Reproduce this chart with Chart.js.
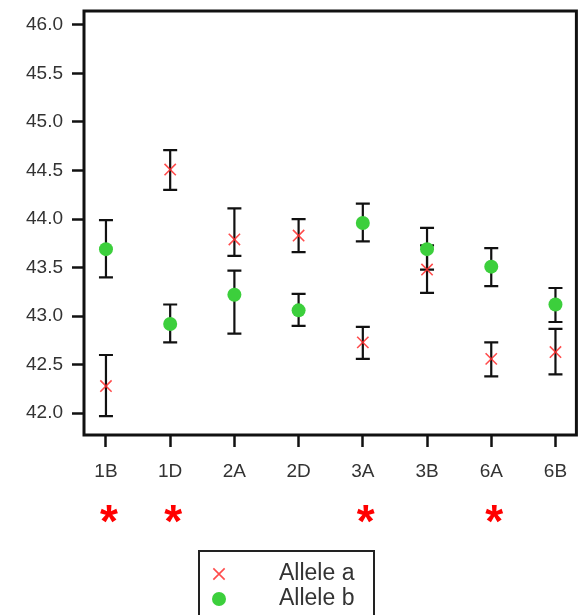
<!DOCTYPE html>
<html>
<head>
<meta charset="utf-8">
<script src="https://cdn.jsdelivr.net/npm/chart.js@4/dist/chart.umd.min.js"></script>
<style>
  html, body { margin: 0; padding: 0; background: #fff; }
  #wrap { width: 586px; height: 615px; }
</style>
</head>
<body>
<div id="wrap"><canvas id="alelos"></canvas></div>
<script>
// chromosomes on the x axis
var categories = ['1B', '1D', '2A', '2D', '3A', '3B', '6A', '6B'];

// Allele a: mean and error bar ends
var alleleA     = [42.28, 44.51, 43.79, 43.83, 42.73, 43.48, 42.56, 42.63];
var alleleALow  = [41.97, 44.30, 43.62, 43.66, 42.56, 43.24, 42.38, 42.40];
var alleleAHigh = [42.60, 44.71, 44.11, 44.00, 42.89, 43.73, 42.73, 42.87];

// Allele b: mean and error bar ends
var alleleB     = [43.69, 42.92, 43.22, 43.06, 43.96, 43.69, 43.51, 43.12];
var alleleBLow  = [43.40, 42.73, 42.82, 42.90, 43.77, 43.48, 43.31, 42.94];
var alleleBHigh = [43.99, 43.12, 43.47, 43.23, 44.16, 43.91, 43.70, 43.29];

// significant differences, marked with a star under the axis
var significant = ['1B', '1D', '3A', '6A'];

var yTicks = [42.0, 42.5, 43.0, 43.5, 44.0, 44.5, 45.0, 45.5, 46.0];

var textColor = '#333';
var lineColor = '#111';
var font = 'Liberation Sans, Arial, sans-serif';

function toPoints(values) {
  var pts = [];
  for (var i = 0; i < values.length; i++) {
    pts.push({ x: i, y: values[i] });
  }
  return pts;
}

// error bars under the markers
var errorBars = {
  id: 'errorBars',
  beforeDatasetsDraw: function(chart) {
    var ctx = chart.ctx;
    var xs = chart.scales.x, ys = chart.scales.y;
    var sets = [[alleleALow, alleleAHigh], [alleleBLow, alleleBHigh]];
    ctx.save();
    ctx.strokeStyle = lineColor;
    ctx.lineWidth = 2.2;
    for (var s = 0; s < sets.length; s++) {
      for (var i = 0; i < categories.length; i++) {
        var x = xs.getPixelForValue(i);
        var lo = ys.getPixelForValue(sets[s][0][i]);
        var hi = ys.getPixelForValue(sets[s][1][i]);
        ctx.beginPath();
        ctx.moveTo(x, lo); ctx.lineTo(x, hi);
        ctx.moveTo(x - 7, lo); ctx.lineTo(x + 7, lo);
        ctx.moveTo(x - 7, hi); ctx.lineTo(x + 7, hi);
        ctx.stroke();
      }
    }
    ctx.restore();
  }
};

// frame, stars and the small boxed legend
var extras = {
  id: 'extras',
  afterDraw: function(chart) {
    var ctx = chart.ctx;
    var a = chart.chartArea;
    var xs = chart.scales.x;
    ctx.save();
    ctx.strokeStyle = lineColor;
    ctx.lineWidth = 3;
    ctx.strokeRect(a.left, a.top, a.right - a.left, a.bottom - a.top);

    ctx.fillStyle = '#ff0000';
    ctx.font = 'bold 46px ' + font;
    ctx.textAlign = 'center';
    ctx.textBaseline = 'alphabetic';
    for (var i = 0; i < significant.length; i++) {
      var idx = categories.indexOf(significant[i]);
      ctx.fillText('*', xs.getPixelForValue(idx) + 3, a.bottom + 102);
    }

    // legend box
    var lx = 199, ly = 551, lw = 175, lh = 70;
    ctx.strokeStyle = '#222';
    ctx.lineWidth = 2;
    ctx.strokeRect(lx, ly, lw, lh);
    var ds = chart.data.datasets;
    ctx.font = '23px ' + font;
    ctx.textAlign = 'left';
    ctx.textBaseline = 'middle';
    for (var k = 0; k < ds.length; k++) {
      var cy = ly + 23 + k * 25;
      ctx.fillStyle = ds[k].pointBackgroundColor;
      ctx.strokeStyle = ds[k].pointBorderColor;
      ctx.lineWidth = ds[k].pointBorderWidth;
      Chart.helpers.drawPoint(ctx, {
        pointStyle: ds[k].pointStyle,
        radius: ds[k].pointRadius,
        borderWidth: ds[k].pointBorderWidth
      }, lx + 20, cy);
      ctx.fillStyle = textColor;
      ctx.fillText(ds[k].label, lx + 80, cy);
    }
    ctx.restore();
  }
};

var ctx = document.getElementById('alelos').getContext('2d');
var chart = new Chart(ctx, {
  type: 'scatter',
  data: {
    datasets: [
      {
        label: 'Allele a',
        data: toPoints(alleleA),
        pointStyle: 'crossRot',
        pointRadius: 8,
        pointBorderWidth: 1.6,
        pointBorderColor: 'rgba(255,45,45,0.85)',
        pointBackgroundColor: 'rgba(255,45,45,0.85)',
        showLine: false
      },
      {
        label: 'Allele b',
        data: toPoints(alleleB),
        pointStyle: 'circle',
        pointRadius: 7,
        pointBorderWidth: 0,
        pointBorderColor: '#3ccf3c',
        pointBackgroundColor: '#3ccf3c',
        showLine: false
      }
    ]
  },
  options: {
    responsive: true,
    maintainAspectRatio: false,
    animation: false,
    layout: { padding: { top: 11, right: 8, left: 0, bottom: 0 } },
    plugins: {
      legend: { display: false },
      tooltip: { enabled: false }
    },
    scales: {
      x: {
        type: 'linear',
        min: -0.342,
        max: 7.326,
        afterBuildTicks: function(scale) {
          scale.ticks = categories.map(function(c, i) { return { value: i }; });
        },
        afterFit: function(scale) {
          scale.height = 180;
          scale.paddingLeft = 0;
          scale.paddingRight = 0;
        },
        border: { display: false },
        grid: { drawOnChartArea: false, tickLength: 12, tickWidth: 2.5, tickColor: lineColor },
        ticks: {
          autoSkip: false,
          maxRotation: 0,
          padding: 13,
          color: textColor,
          font: { family: font, size: 19 },
          callback: function(v) { return categories[v]; }
        }
      },
      y: {
        min: 41.776,
        max: 46.143,
        afterBuildTicks: function(scale) {
          scale.ticks = yTicks.map(function(v) { return { value: v }; });
        },
        afterFit: function(scale) {
          scale.width = 84;
          scale.paddingTop = 0;
          scale.paddingBottom = 0;
        },
        border: { display: false },
        grid: { drawOnChartArea: false, tickLength: 12, tickWidth: 2.5, tickColor: lineColor },
        ticks: {
          padding: 9,
          color: textColor,
          font: { family: font, size: 19 },
          callback: function(v) { return v.toFixed(1); }
        }
      }
    }
  },
  plugins: [errorBars, extras]
});
</script>
</body>
</html>
